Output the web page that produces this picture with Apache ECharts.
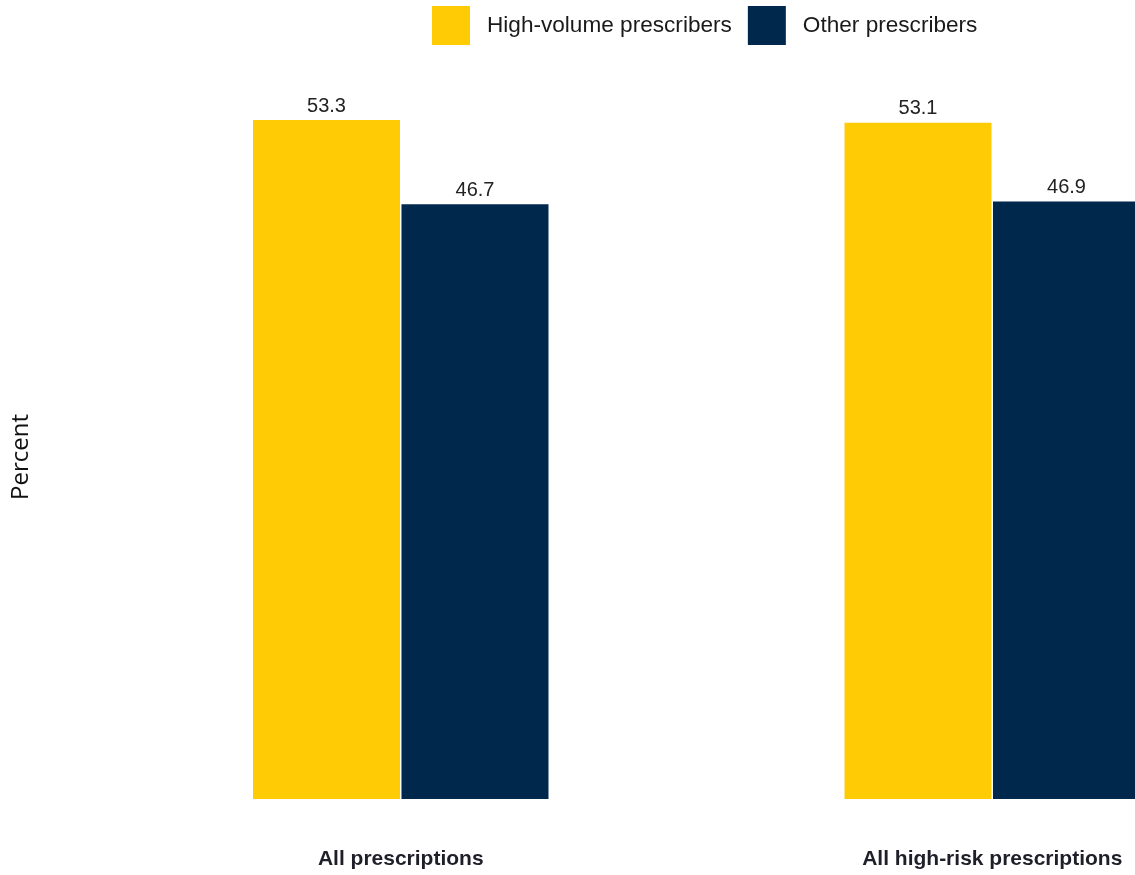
<!DOCTYPE html>
<html>
<head>
<meta charset="utf-8">
<script src="https://cdn.jsdelivr.net/npm/echarts@6/dist/echarts.min.js"></script>
<style>
html,body{margin:0;padding:0;background:#fff;}
#chart{width:1135px;height:875px;}
</style>
</head>
<body>
<div id="chart"></div>
<script>
const categories = ['All prescriptions', 'All high-risk prescriptions'];
const seriesNames = ['High-volume prescribers', 'Other prescribers'];
const highVolume = [53.3, 53.1];
const otherPrescribers = [46.7, 46.9];
const yAxisTitle = 'Percent';

const FONT = '"Liberation Sans", Arial, sans-serif';
const chart = echarts.init(document.getElementById('chart'), null, {renderer: 'canvas'});
chart.setOption({
  backgroundColor: '#ffffff',
  animation: false,
  textStyle: {fontFamily: FONT},
  legend: {
    left: 427,
    top: 1,
    icon: 'rect',
    itemWidth: 38,
    itemHeight: 39,
    itemGap: 16,
    textStyle: {fontSize: 22.6, color: '#1a1a1a', fontFamily: FONT, padding: [0, 0, 0, 12]},
    data: seriesNames
  },
  grid: {left: 105, right: -153, top: 115, bottom: 76, containLabel: false, outerBoundsMode: 'none'},
  xAxis: {
    type: 'category',
    data: categories,
    axisLine: {show: false},
    axisTick: {show: false},
    axisLabel: {fontSize: 21, fontWeight: 'bold', color: '#1f1f2a', margin: 50, fontFamily: FONT, interval: 0}
  },
  yAxis: {
    type: 'value',
    min: 0,
    max: 53.7,
    name: yAxisTitle,
    nameLocation: 'middle',
    nameRotate: 90,
    nameGap: 72,
    nameTextStyle: {fontSize: 24, color: '#111', fontFamily: '"Open Sans", sans-serif'},
    axisLine: {show: false},
    axisTick: {show: false},
    axisLabel: {show: false},
    splitLine: {show: false}
  },
  series: [
    {
      name: seriesNames[0],
      type: 'bar',
      data: highVolume,
      barWidth: 147,
      barGap: '1%',
      itemStyle: {color: '#FFCB05'},
      label: {show: true, position: 'top', distance: 4, fontSize: 20, color: '#222', fontFamily: FONT, formatter: p => p.value.toFixed(1)}
    },
    {
      name: seriesNames[1],
      type: 'bar',
      data: otherPrescribers,
      barWidth: 147,
      barGap: '1%',
      itemStyle: {color: '#00274C'},
      label: {show: true, position: 'top', distance: 4, fontSize: 20, color: '#222', fontFamily: FONT, formatter: p => p.value.toFixed(1)}
    }
  ]
});
</script>
</body>
</html>
